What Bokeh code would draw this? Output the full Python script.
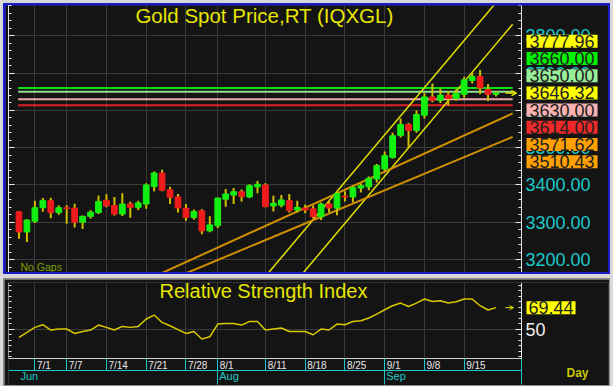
import json
from bokeh.plotting import figure
from bokeh.models import (ColumnDataSource, LinearAxis, Grid, FixedTicker, SingleIntervalTicker,
                          NumeralTickFormatter, CustomJSTickFormatter, Label, Arrow, OpenHead, Range1d)
from bokeh.layouts import column
from bokeh.embed import file_html
from bokeh.resources import INLINE

# ---------------- data ----------------
dates = ["6/27", "6/30", "7/1", "7/2", "7/3", "7/4", "7/7", "7/8", "7/9", "7/10", "7/11",
         "7/14", "7/15", "7/16", "7/17", "7/18", "7/21", "7/22", "7/23", "7/24", "7/25",
         "7/28", "7/29", "7/30", "7/31", "8/1", "8/4", "8/5", "8/6", "8/7", "8/8",
         "8/11", "8/12", "8/13", "8/14", "8/15", "8/18", "8/19", "8/20", "8/21", "8/22",
         "8/25", "8/26", "8/27", "8/28", "8/29", "9/1", "9/2", "9/3", "9/4", "9/5",
         "9/8", "9/9", "9/10", "9/11", "9/12", "9/15", "9/16", "9/17", "9/18", "9/19"]
opens = [3328, 3274, 3303, 3339, 3358, 3326, 3339, 3338, 3300, 3316, 3326,
         3359, 3345, 3322, 3349, 3340, 3349, 3396, 3432, 3387, 3368,
         3338, 3313, 3331, 3277, 3291, 3362, 3373, 3382, 3368, 3395,
         3400, 3344, 3346, 3358, 3333, 3338, 3336, 3315, 3349, 3338,
         3370, 3368, 3392, 3395, 3416, 3443, 3474, 3533, 3562, 3546,
         3587, 3636, 3627, 3641, 3632, 3643, 3680, 3691, 3656, 3643]
highs = [3330, 3308, 3358, 3365, 3366, 3346, 3346, 3350, 3318, 3332, 3372,
         3375, 3368, 3378, 3355, 3358, 3405, 3436, 3441, 3395, 3376,
         3349, 3334, 3335, 3316, 3366, 3389, 3392, 3388, 3402, 3411,
         3405, 3371, 3373, 3376, 3358, 3348, 3345, 3353, 3356, 3383,
         3383, 3398, 3404, 3423, 3456, 3490, 3540, 3578, 3566, 3600,
         3646, 3672, 3658, 3652, 3657, 3690, 3700, 3708, 3671, 3651]
lows = [3256, 3247, 3298, 3328, 3311, 3320, 3296, 3286, 3282, 3310, 3322,
        3340, 3318, 3317, 3312, 3333, 3336, 3383, 3383, 3349, 3326,
        3304, 3307, 3268, 3273, 3285, 3342, 3349, 3356, 3365, 3378,
        3340, 3329, 3340, 3326, 3326, 3324, 3311, 3306, 3326, 3319,
        3356, 3353, 3380, 3386, 3407, 3436, 3471, 3527, 3500, 3540,
        3578, 3622, 3620, 3613, 3626, 3634, 3672, 3643, 3625, 3637]
closes = [3274, 3306, 3339, 3358, 3326, 3339, 3337, 3300, 3316, 3327, 3356,
          3344, 3322, 3349, 3340, 3352, 3400, 3432, 3386, 3367, 3338,
          3313, 3329, 3277, 3293, 3365, 3376, 3382, 3369, 3398, 3402,
          3342, 3351, 3360, 3331, 3340, 3333, 3315, 3349, 3338, 3377,
          3368, 3393, 3398, 3418, 3452, 3479, 3532, 3562, 3546, 3589,
          3636, 3627, 3641, 3632, 3646, 3682, 3691, 3660, 3643, 3646.32]
rsi = [42.4, 46.9, 51.5, 53.9, 49.1, 50.0, 50.0, 46.0, 47.8, 49.1, 53.6,
       51.5, 49.1, 52.4, 51.5, 52.4, 59.1, 62.7, 56.0, 53.0, 49.4,
       46.0, 47.8, 40.9, 43.0, 54.5, 55.1, 55.1, 53.6, 56.9, 56.9,
       49.1, 50.0, 50.9, 47.8, 47.8, 47.8, 44.8, 50.0, 49.1, 54.5,
       53.9, 56.9, 57.5, 60.0, 63.6, 67.5, 71.2, 73.6, 70.5, 73.6,
       77.3, 75.1, 75.7, 73.6, 74.8, 77.3, 77.3, 71.2, 67.3, 69.44]

tick_dates = ["7/1", "7/7", "7/14", "7/21", "7/28", "8/1", "8/11", "8/18", "8/25", "9/1", "9/8", "9/15"]
month_names = ["Jun", "Aug", "Sep"]
month_first = ["6/27", "8/1", "9/1"]

# horizontal levels
level_values = [3660.00, 3650.00, 3630.00, 3614.00]
level_colors = ["#10e010", "#90e090", "#f0a8a8", "#e02020"]

# trend lines: start/end (bar index, price)
trend_x0 = [31.0, 35.5, 17.5, 20.5]
trend_y0 = [3155.0, 3158.1, 3159.4, 3158.9]
trend_x1 = [62.1, 62.1, 62.1, 62.1]
trend_y1 = [3942.0, 3831.1, 3592.0, 3529.1]
trend_colors = ["#e0e000", "#e0e000", "#d09000", "#d09000"]
trend_widths = [1.5, 1.5, 2, 2]

# value tags on the price scale
tag_values = [3777.96, 3660.00, 3650.00, 3646.32, 3630.00, 3614.00, 3571.62, 3510.43]
tag_colors = ["#ffff00", "#00f000", "#98ee98", "#ffff00", "#f8b0b0", "#f02828", "#ffa000", "#ffa000"]
rsi_last = 69.44

# ---------------- geometry helpers ----------------
BG = "#141414"
GRID = "#3a3a3a"
CYAN = "#1ec8c8"
FONT = "Liberation Sans"
PPU = 7.95                      # px per bar
FL, FW = 8, 600                 # page px of frame left, frame width (frame covers the tag strip)
XR = (-1.32, -1.32 + FW / PPU)
AXX = XR[0] + (521 - FL) / PPU  # x of the price scale line
YR1 = (3165.4, 3881.2)
T1, H1 = 5, 267                 # price frame top/height (page px)
T2, H2 = 282, 103               # rsi frame top/height
YR2 = (92.3 - H2 / 1.1, 92.3)


def px_x(px):
    return XR[0] + (px - FL) / PPU


def px_y1(py):
    return YR1[1] - (py - T1) * (YR1[1] - YR1[0]) / H1


def px_y2(py):
    return YR2[1] - (py - T2) * (YR2[1] - YR2[0]) / H2


CHAR_W = {"/": 0.278, "J": 0.5, "A": 0.667, "S": 0.667}


def text_w(s, size):
    return size * sum(CHAR_W.get(ch, 0.556) for ch in s)


RSI_BOTTOM = px_y2(358)

idx = list(range(len(dates)))
tick_idx = [dates.index(d) for d in tick_dates]
month_idx = [dates.index(d) for d in month_first]
# label anchors: text starts just right of its tick line
date_label_x = [i + (2 + text_w(d, 10) / 2) / PPU for i, d in zip(tick_idx, tick_dates)]
month_label_x = [i + (1.5 + text_w(m, 11) / 2) / PPU for i, m in zip(month_idx, month_names)]
empty_fmt = CustomJSTickFormatter(code="return ''")

# ---------------- price panel ----------------
p1 = figure(frame_width=FW, frame_height=H1, x_range=Range1d(*XR), y_range=Range1d(*YR1),
            output_backend="svg", toolbar_location=None, x_axis_location=None, y_axis_location=None,
            min_border_left=3, min_border_right=0, min_border_top=0, min_border_bottom=0,
            background_fill_color=BG, border_fill_color=BG, outline_line_color=None, title=None)
p1.grid.visible = False
p1.add_layout(Grid(dimension=0, ticker=FixedTicker(ticks=tick_idx), grid_line_color=GRID))
p1.add_layout(Grid(dimension=1, ticker=SingleIntervalTicker(interval=100), grid_line_color=GRID,
                   cross_bounds=(XR[0], AXX)))

axis_style = dict(major_tick_in=6, major_tick_out=0, minor_tick_in=3, minor_tick_out=0,
                  axis_line_color="#e8e8e8", major_tick_line_color="#e8e8e8",
                  minor_tick_line_color="#e8e8e8", major_label_text_font=FONT,
                  major_label_text_font_size="18px")
ra = LinearAxis(ticker=SingleIntervalTicker(interval=100, num_minor_ticks=5),
                formatter=NumeralTickFormatter(format="0.00"), major_label_text_color=CYAN,
                major_label_standoff=4, fixed_location=AXX, **axis_style)
p1.add_layout(ra, "right")
la = LinearAxis(ticker=SingleIntervalTicker(interval=100, num_minor_ticks=5), formatter=empty_fmt,
                major_label_standoff=0, **axis_style)
p1.add_layout(la, "left")

# level lines
p1.segment(x0=[-0.1] * len(level_values), y0=level_values, x1=[62.1] * len(level_values), y1=level_values,
           line_color=level_colors, line_width=2)
# trend lines
p1.segment(x0=trend_x0, y0=trend_y0, x1=trend_x1, y1=trend_y1, line_color=trend_colors,
           line_width=trend_widths)

cols = ["#12f012" if c >= o else "#f01c1c" for o, c in zip(opens, closes)]
src = ColumnDataSource(dict(x=idx, high=highs, low=lows,
                            top=[max(o, c) for o, c in zip(opens, closes)],
                            bottom=[min(o, c) for o, c in zip(opens, closes)], color=cols))
p1.segment(x0="x", y0="low", x1="x", y1="high", source=src, line_color="#d0bf00", line_width=2)
p1.vbar(x="x", top="top", bottom="bottom", width=0.72, fill_color="color", line_color="color",
        line_width=1, source=src)

p1.add_layout(Arrow(x_start=px_x(505), x_end=px_x(516), y_start=closes[-1], y_end=closes[-1],
                    line_color="#e8e800", line_width=1.5,
                    end=OpenHead(size=5, line_color="#e8e800", line_width=1.5)))

p1.add_layout(Label(x=px_x(264), y=px_y1(15), text="Gold Spot Price,RT (IQXGL)", text_align="center",
                    text_baseline="middle", text_color="#e6e600", text_font=FONT, text_font_size="20.5px"))
p1.add_layout(Label(x=px_x(20), y=px_y1(266), text="No Gaps", text_align="left", text_baseline="middle",
                    text_color="#80a000", text_font=FONT, text_font_size="10.5px"))

# stacked value tags (drawn bottom-up so each box overlaps the empty top of the one below)
tags = list(enumerate(zip(tag_values, tag_colors)))
for k, (v, bg) in reversed(tags):
    p1.add_layout(Label(x=px_x(526), y=px_y1(40.8 + 17.2 * k), text=f"{v:.2f}", text_align="left",
                        text_baseline="middle", text_color="#202020", text_font=FONT,
                        text_font_size="18px", background_fill_color=bg,
                        padding=dict(left=3, right=3, top=0, bottom=0)))

# ---------------- RSI panel ----------------
p2 = figure(frame_width=FW, frame_height=H2, x_range=Range1d(*XR), y_range=Range1d(*YR2),
            output_backend="svg", toolbar_location=None, x_axis_location=None, y_axis_location=None,
            min_border_left=4, min_border_right=1, min_border_top=3, min_border_bottom=0,
            background_fill_color=BG, border_fill_color=BG, outline_line_color=None, title=None)
p2.grid.visible = False
p2.add_layout(Grid(dimension=0, ticker=FixedTicker(ticks=tick_idx), grid_line_color=GRID,
                   cross_bounds=(RSI_BOTTOM, YR2[1])))
p2.add_layout(Grid(dimension=1, ticker=FixedTicker(ticks=[50]), grid_line_color=GRID,
                   cross_bounds=(XR[0], AXX)))

rsi_ticker = FixedTicker(ticks=[50], minor_ticks=list(range(25, 95, 5)))
ra2 = LinearAxis(ticker=rsi_ticker, major_label_text_color="#f0f0f0", major_label_standoff=4,
                 fixed_location=AXX, bounds=(RSI_BOTTOM, YR2[1]), **axis_style)
p2.add_layout(ra2, "right")
la2 = LinearAxis(ticker=rsi_ticker, formatter=empty_fmt, major_label_standoff=0,
                 fixed_location=XR[0], bounds=(RSI_BOTTOM, YR2[1]), **axis_style)
p2.add_layout(la2, "left")

date_fmt = CustomJSTickFormatter(code="const labels = %s; return labels[index] ?? '';" % json.dumps(tick_dates))
da = LinearAxis(ticker=FixedTicker(ticks=date_label_x, minor_ticks=tick_idx + [AXX - 0.01]),
                formatter=date_fmt, fixed_location=RSI_BOTTOM, bounds=(XR[0], AXX),
                axis_line_color="#d0d0d0", major_tick_in=0, major_tick_out=0,
                major_tick_line_color=None, minor_tick_in=0, minor_tick_out=12,
                minor_tick_line_color=CYAN,
                major_label_text_color="#e8e8e8", major_label_text_font=FONT,
                major_label_text_font_size="10px", major_label_standoff=-11)
p2.add_layout(da, "below")

month_fmt = CustomJSTickFormatter(code="const labels = %s; return labels[index] ?? '';" % json.dumps(month_names))
ma = LinearAxis(ticker=FixedTicker(ticks=month_label_x, minor_ticks=month_idx[1:] + [AXX - 0.01]),
                formatter=month_fmt, fixed_location=px_y2(370), bounds=(XR[0], AXX),
                axis_line_color=CYAN, major_tick_in=0, major_tick_out=0, major_tick_line_color=None,
                minor_tick_in=0, minor_tick_out=14, minor_tick_line_color=CYAN,
                major_label_text_color=CYAN, major_label_text_font=FONT,
                major_label_text_font_size="11px", major_label_standoff=-15)
p2.add_layout(ma, "below")

p2.line(idx, rsi, line_color="#d8c800", line_width=1.5)

p2.add_layout(Arrow(x_start=px_x(505), x_end=px_x(513), y_start=rsi_last, y_end=rsi_last,
                    line_color="#e8e800", line_width=1,
                    end=OpenHead(size=4, line_color="#e8e800", line_width=1)))
p2.add_layout(Label(x=px_x(263), y=px_y2(290.5), text="Relative Strength Index", text_align="center",
                    text_baseline="middle", text_color="#e6e600", text_font=FONT, text_font_size="20px"))
p2.add_layout(Label(x=px_x(526), y=rsi_last, text=f"{rsi_last:.2f}", text_align="left",
                    text_baseline="middle", text_color="#202020", text_font=FONT, text_font_size="18px",
                    background_fill_color="#ffff00", padding=dict(left=2, right=2, top=0, bottom=0)))
p2.add_layout(Label(x=px_x(566), y=px_y2(372), text="Day", text_align="left", text_baseline="middle",
                    text_color="#c8c800", text_font=FONT, text_font_size="12px", text_font_style="bold"))

# ---------------- layout ----------------
p1.margin = (2, 2, 2, 2)
p2.margin = (1, 1, 1, 1)
block_a = column(p1, margin=(3, 3, 1, 3), styles={"background-color": "#1c1cc8"})
block_b = column(p2, margin=(3, 3, 0, 3), styles={"background-color": "#8c8c8c"})
page = column(block_a, block_b, styles={"background-color": "#d8d8d8"})

open("out.html", "w").write(file_html(page, INLINE, title="Gold Spot Price"))
